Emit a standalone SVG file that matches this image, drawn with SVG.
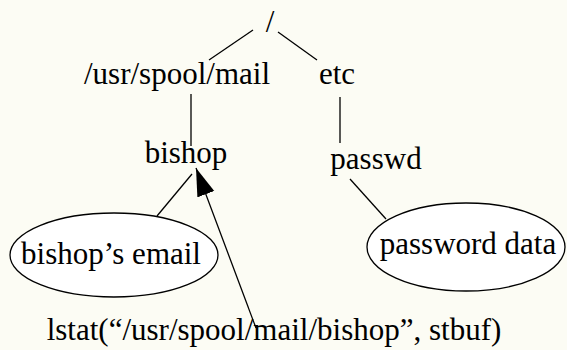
<svg xmlns="http://www.w3.org/2000/svg" width="567" height="350" viewBox="0 0 567 350">
<style>
text{font-family:"Liberation Serif","Times New Roman",serif;font-size:31px;fill:#000;text-anchor:middle}
.e{fill:#fff;stroke:#000;stroke-width:1.3}
.c line{stroke:#000;stroke-width:1.3}
</style>
<defs>
<marker id="ah" markerUnits="userSpaceOnUse" markerWidth="30" markerHeight="20" refX="28" refY="9" orient="auto">
<path d="M0,0 L28,9 L0,18 z" fill="#000"/>
</marker>
</defs>
<rect width="567" height="350" fill="#fcfcf4"/>
<g class="c" id="connectors">
<line x1="253" y1="30" x2="209" y2="60"/>
<line x1="278" y1="32" x2="317" y2="60"/>
<line x1="191" y1="94" x2="191" y2="146"/>
<line x1="340" y1="97" x2="340" y2="143"/>
<line x1="192" y1="174" x2="157" y2="216"/>
<line x1="350" y1="179" x2="386" y2="219"/>
<line x1="256" y1="328" x2="196" y2="168" marker-end="url(#ah)"/>
</g>
<g id="root"><text x="270" y="32">/</text></g>
<g id="spool"><text x="177" y="84">/usr/spool/mail</text></g>
<g id="etc"><text x="337" y="84">etc</text></g>
<g id="bishop"><text x="186" y="163">bishop</text></g>
<g id="passwd"><text x="376" y="169">passwd</text></g>
<g id="email"><ellipse class="e" cx="114" cy="255" rx="104" ry="42"/><text x="111" y="264">bishop’s email</text></g>
<g id="pwdata"><ellipse class="e" cx="466" cy="247" rx="99" ry="44"/><text x="468" y="254">password data</text></g>
<g id="lstat"><text x="274" y="340">lstat(“/usr/spool/mail/bishop”, stbuf)</text></g>
</svg>
